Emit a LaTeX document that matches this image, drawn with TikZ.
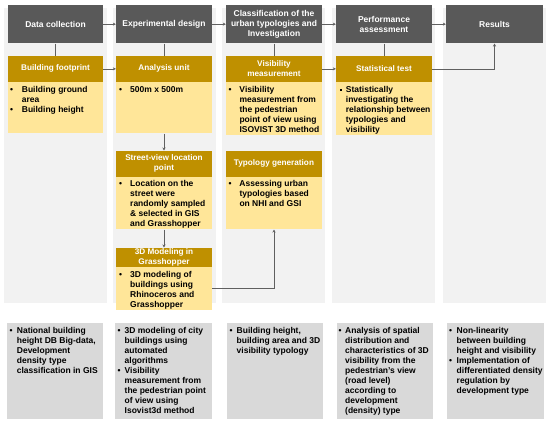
\documentclass[tikz,border=0pt]{standalone}
\usepackage{fontspec}
\setmainfont{Liberation Sans}
\usetikzlibrary{arrows.meta}
\definecolor{hdrgray}{HTML}{595959}
\definecolor{goldc}{HTML}{BF9000}
\definecolor{lyel}{HTML}{FFE699}
\definecolor{panelc}{HTML}{F2F2F2}
\definecolor{botgray}{HTML}{D9D9D9}
\definecolor{linegray}{HTML}{606060}
\newcommand\btab[2]{\begin{tabular}{@{}p{#1}@{}l@{}}#2\end{tabular}}
\newcommand\mybul{\textbullet}
\newcommand\mysq{\raisebox{1.6pt}{\rule{2.2pt}{2.2pt}}}
\tikzset{
  panel/.style={fill=panelc, draw=none, inner sep=0pt},
  hdr/.style={fill=hdrgray, draw=none, inner sep=0pt, text=white, align=center,
    font=\bfseries\fontsize{8.5}{10}\selectfont},
  gtitle/.style={fill=goldc, draw=none, inner sep=0pt, text=white, align=center,
    font=\bfseries\fontsize{8.2}{10}\selectfont},
  gbody/.style={fill=lyel, draw=none, inner sep=0pt},
  bbox/.style={fill=botgray, draw=none, inner sep=0pt},
  btxt/.style={anchor=north west, inner sep=0pt, align=left,
    font=\bfseries\fontsize{8.5}{10}\selectfont},
  conn/.style={draw=linegray, line width=0.7pt},
  arr/.style={conn, -{Stealth[length=3pt,width=3pt]}},
}
\begin{document}
\begin{tikzpicture}[x=1pt,y=-1pt]
\useasboundingbox (0,0) rectangle (550,424);
\fill[white] (0,0) rectangle (550,424);
% panels
\node[panel, minimum width=103, minimum height=295] (p1) at (55.5,155.5) {};
\node[panel, minimum width=103, minimum height=295] (p2) at (164.5,155.5) {};
\node[panel, minimum width=103, minimum height=295] (p3) at (273.5,155.5) {};
\node[panel, minimum width=103, minimum height=295] (p4) at (383.5,155.5) {};
\node[panel, minimum width=103, minimum height=295] (p5) at (494.5,155.5) {};
% headers
\node[hdr, minimum width=95, minimum height=38.3] (h1) at (55.5,24.15) {Data collection};
\node[hdr, minimum width=96, minimum height=38.3] (h2) at (164,24.15) {Experimental design};
\node[hdr, minimum width=96, minimum height=38.3] (h3) at (274,24.15) {Classification of the\\urban typologies and\\Investigation};
\node[hdr, minimum width=96, minimum height=38.3] (h4) at (384,24.15) {Performance\\assessment};
\node[hdr, minimum width=97, minimum height=38.3] (h5) at (494.5,24.15) {Results};
% gold titles row 1
\node[gtitle, minimum width=95, minimum height=25.7] (t1) at (55.5,68.85) {Building footprint};
\node[gtitle, minimum width=96, minimum height=25.7] (t2) at (164,68.85) {Analysis unit};
\node[gtitle, minimum width=96, minimum height=25.7] (t3) at (274,68.85) {Visibility\\measurement};
\node[gtitle, minimum width=96, minimum height=25.7] (t4) at (384,68.85) {Statistical test};
% bodies row 1
\node[gbody, minimum width=95, minimum height=51.6] (u1) at (55.5,107.5) {};
\node[gbody, minimum width=96, minimum height=51.6] (u2) at (164,107.5) {};
\node[gbody, minimum width=96, minimum height=53.3] (u3) at (274,108.35) {};
\node[gbody, minimum width=96, minimum height=53.3] (u4) at (384,108.35) {};
\node[btxt] (x1) at (10,85.3) {\btab{11.7pt}{\mybul & Building ground\\ & area\\ \mybul & Building height}};
\node[btxt] (x2) at (119,85.3) {\btab{11pt}{\mybul & 500m x 500m}};
\node[btxt] (x3) at (228.5,85.3) {\btab{10.8pt}{\mybul & Visibility\\ & measurement from\\ & the pedestrian\\ & point of view using\\ & ISOVIST 3D method}};
\node[btxt] (x4) at (339.5,85.3) {\btab{6.2pt}{\mysq & Statistically\\ & investigating the\\ & relationship between\\ & typologies and\\ & visibility}};
% street-view
\node[gtitle, minimum width=96, minimum height=26] (t5) at (164,163.7) {Street-view location\\point};
\node[gbody, minimum width=96, minimum height=52.6] (u5) at (164,203) {};
\node[btxt] (x5) at (119,179.7) {\btab{11pt}{\mybul & Location on the\\ & street were\\ & randomly sampled\\ & \& selected in GIS\\ & and Grasshopper}};
% 3D modeling
\node[gtitle, minimum width=96, minimum height=19.6] (t6) at (164,257.5) {3D Modeling in\\Grasshopper};
\node[gbody, minimum width=96, minimum height=42.7] (u6) at (164,288.65) {};
\node[btxt] (x6) at (119,270) {\btab{11pt}{\mybul & 3D modeling of\\ & buildings using\\ & Rhinoceros and\\ & Grasshopper}};
% typology
\node[gtitle, minimum width=96, minimum height=26] (t7) at (274,163.7) {Typology generation};
\node[gbody, minimum width=96, minimum height=52.6] (u7) at (274,203) {};
\node[btxt] (x7) at (228.5,179.7) {\btab{10.8pt}{\mybul & Assessing urban\\ & typologies based\\ & on NHI and GSI}};
% bottom boxes
\node[bbox, minimum width=96.6, minimum height=96] (b1) at (55,371.3) {};
\node[bbox, minimum width=96.7, minimum height=96] (b2) at (163.35,371.3) {};
\node[bbox, minimum width=96.6, minimum height=96] (b3) at (275,371.3) {};
\node[bbox, minimum width=96.6, minimum height=96] (b4) at (385,371.3) {};
\node[bbox, minimum width=97.6, minimum height=96] (b5) at (495.5,371.3) {};
\node[btxt] (y1) at (9.5,326.3) {\btab{7.2pt}{\mybul & National building\\ & height DB Big-data,\\ & Development\\ & density type\\ & classification in GIS}};
\node[btxt] (y2) at (117.5,326.3) {\btab{7pt}{\mybul & 3D modeling of city\\ & buildings using\\ & automated\\ & algorithms\\ \mybul & Visibility\\ & measurement from\\ & the pedestrian point\\ & of view using\\ & Isovist3d method}};
\node[btxt] (y3) at (229.5,326.3) {\btab{7pt}{\mybul & Building height,\\ & building area and 3D\\ & visibility typology}};
\node[btxt] (y4) at (338.5,326.3) {\btab{6.5pt}{\mybul & Analysis of spatial\\ & distribution and\\ & characteristics of 3D\\ & visibility from the\\ & pedestrian's view\\ & (road level)\\ & according to\\ & development\\ & (density) type}};
\node[btxt] (y5) at (449,326.3) {\btab{7.5pt}{\mybul & Non-linearity\\ & between building\\ & height and visibility\\ \mybul & Implementation of\\ & differentiated density\\ & regulation by\\ & development type}};
% connectors
\draw[arr] (h1.east) -- (h2.west);
\draw[arr] (h2.east) -- (h3.west);
\draw[arr] (h3.east) -- (h4.west);
\draw[arr] (h4.east) -- (h5.west);
\draw[conn] (h1.south) -- (t1.north);
\draw[conn] (h2.south) -- (t2.north);
\draw[conn] (h3.south) -- (t3.north);
\draw[conn] (h4.south) -- (t4.north);
\draw[arr] (t1.east) -- (t2.west);
\draw[arr] (t3.east) -- (t4.west);
\draw[arr] (t4.east) -| (h5.south);
\draw[arr] (u2.south) -- (t5.north);
\draw[arr] (u5.south) -- (t6.north);
\draw[arr] (u6.east) -| (u7.south);
\end{tikzpicture}
\end{document}
